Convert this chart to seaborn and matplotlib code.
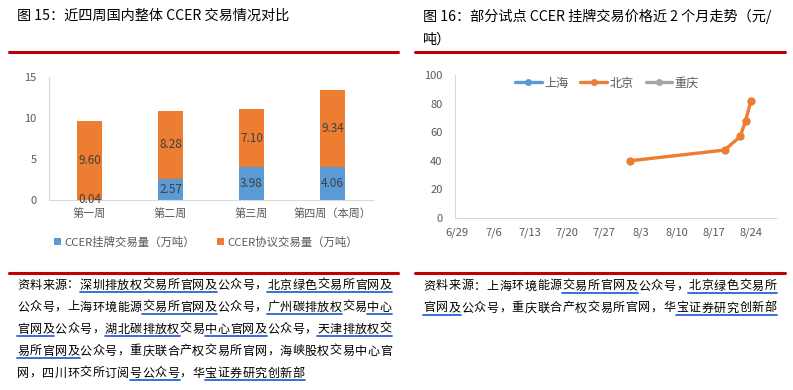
import matplotlib
matplotlib.use("Agg")
import matplotlib.pyplot as plt
import seaborn as sns
import pandas as pd
import numpy as np
from matplotlib.patches import Patch
from matplotlib.lines import Line2D

# ---------------- data ----------------
weeks = ["第一周", "第二周", "第三周", "第四周（本周）"]
listing_vol = [0.04, 2.57, 3.98, 4.06]      # CCER挂牌交易量（万吨）
protocol_vol = [9.60, 8.28, 7.10, 9.34]     # CCER协议交易量（万吨）
bar_series = ["CCER挂牌交易量（万吨）", "CCER协议交易量（万吨）"]

line_series = ["上海", "北京", "重庆"]
bj_dates = ["2023-08-01", "2023-08-19", "2023-08-22", "2023-08-23", "2023-08-24"]
bj_prices = [40.0, 47.5, 57.0, 68.0, 81.5]
date_ticks = ["2023-06-29", "2023-07-06", "2023-07-13", "2023-07-20", "2023-07-27",
              "2023-08-03", "2023-08-10", "2023-08-17", "2023-08-24"]
date_tick_labels = ["6/29", "7/6", "7/13", "7/20", "7/27", "8/3", "8/10", "8/17", "8/24"]

title_left = "图 15：近四周国内整体 CCER 交易情况对比"
title_right_1 = "图 16：部分试点 CCER 挂牌交易价格近 2 个月走势（元/"
title_right_2 = "吨）"
src_left = ["资料来源：深圳排放权交易所官网及公众号，北京绿色交易所官网及",
            "公众号，上海环境能源交易所官网及公众号，广州碳排放权交易中心",
            "官网及公众号，湖北碳排放权交易中心官网及公众号，天津排放权交",
            "易所官网及公众号，重庆联合产权交易所官网，海峡股权交易中心官",
            "网，四川环交所订阅号公众号，华宝证券研究创新部"]
src_right = ["资料来源：上海环境能源交易所官网及公众号，北京绿色交易所",
             "官网及公众号，重庆联合产权交易所官网，华宝证券研究创新部"]
# underlined character ranges (line index, first char, last char)
ul_left = [(0, 5, 15), (0, 20, 29), (1, 10, 15), (1, 20, 25), (1, 28, 29),
           (2, 0, 2), (2, 7, 12), (2, 15, 19), (2, 24, 29), (3, 0, 4),
           (4, 9, 12), (4, 15, 22)]
ul_right = [(0, 11, 16), (0, 21, 27), (1, 0, 2), (1, 20, 27)]

BLUE = "#5B9BD5"
ORANGE = "#ED7D31"
GRAY = "#A5A5A5"
TXT = "#595959"
RED = "#C00000"
ULBLUE = "#2A62D8"

sns.set_theme(style="white")
plt.rcParams['font.family'] = ['Noto Sans CJK SC', 'DejaVu Sans']

W, H = 793, 390
fig = plt.figure(figsize=(W / 100, H / 100), dpi=100)

def fx(px):
    return px / W

def fy(py):
    return 1 - py / H

# ---------------- titles & rules ----------------
fig.text(fx(17), fy(16), title_left, fontsize=10.2, va="center", ha="left", color="black")
fig.text(fx(423), fy(16), title_right_1, fontsize=10.2, va="center", ha="left", color="black")
fig.text(fx(423), fy(40), title_right_2, fontsize=10.2, va="center", ha="left", color="black")
for (x0, x1, y) in [(9, 398, 52), (415, 785, 52), (9, 398, 273), (415, 785, 273)]:
    fig.add_artist(Line2D([fx(x0), fx(x1)], [fy(y), fy(y)], color=RED, lw=2.2))

# ---------------- left: stacked bars ----------------
axL = fig.add_axes([fx(49), fy(200), fx(373) - fx(49), fy(77) - fy(200)])
dfb = pd.DataFrame({"week": weeks, "listing": listing_vol, "protocol": protocol_vol})
dfb["total"] = dfb["listing"] + dfb["protocol"]
sns.barplot(data=dfb, x="week", y="total", color=ORANGE, width=0.31, ax=axL,
            saturation=1, edgecolor="none")
sns.barplot(data=dfb, x="week", y="listing", color=BLUE, width=0.31, ax=axL,
            saturation=1, edgecolor="none")
for i, (l, p) in enumerate(zip(listing_vol, protocol_vol)):
    axL.text(i, l + p / 2, f"{p:.2f}", ha="center", va="center", fontsize=8.5, color="#404040")
    ly = l / 2 if l > 0.5 else 0.0
    axL.text(i, ly, f"{l:.2f}", ha="center", va="center", fontsize=8.5, color="#404040")
axL.set_xlim(-0.5, 3.5)
axL.set_ylim(0, 15)
axL.set_yticks([0, 5, 10, 15])
axL.set_xlabel("")
axL.set_ylabel("")
for s in ["top", "right"]:
    axL.spines[s].set_visible(False)
for s in ["left", "bottom"]:
    axL.spines[s].set_color("#D9D9D9")
    axL.spines[s].set_linewidth(0.8)
axL.tick_params(axis="y", length=0, pad=9, labelsize=8, labelcolor=TXT)
axL.tick_params(axis="x", length=0, pad=6, labelsize=8, labelcolor=TXT)
handles_b = [Patch(facecolor=BLUE, edgecolor="none"), Patch(facecolor=ORANGE, edgecolor="none")]
fig.legend(handles_b, bar_series, loc="center", bbox_to_anchor=(fx(206), fy(242)), ncol=2,
           frameon=False, fontsize=8.2, handlelength=0.6, handleheight=0.6, handletextpad=0.3,
           columnspacing=2.0, labelcolor=TXT)

# ---------------- right: line chart ----------------
axR = fig.add_axes([fx(455), fy(218), fx(776) - fx(455), fy(75) - fy(218)])
dfl = pd.DataFrame({"date": pd.to_datetime(bj_dates), "price": bj_prices, "city": "北京"})
sns.lineplot(data=dfl, x="date", y="price", color=ORANGE, lw=2.4, marker="o",
             markersize=6, markeredgewidth=0, ax=axR, legend=False)
t0 = pd.Timestamp(date_ticks[0])
axR.set_xlim(t0 - pd.Timedelta(days=0.3), t0 + pd.Timedelta(days=60.8))
axR.set_xticks(pd.to_datetime(date_ticks))
axR.set_xticklabels(date_tick_labels)
axR.set_ylim(0, 100)
axR.set_yticks([0, 20, 40, 60, 80, 100])
axR.set_xlabel("")
axR.set_ylabel("")
for s in ["top", "right"]:
    axR.spines[s].set_visible(False)
for s in ["left", "bottom"]:
    axR.spines[s].set_color("#D9D9D9")
    axR.spines[s].set_linewidth(0.8)
axR.tick_params(axis="y", length=0, pad=9, labelsize=8, labelcolor=TXT)
axR.tick_params(axis="x", length=0, pad=7, labelsize=8, labelcolor=TXT)
handles_l = [Line2D([], [], color=c, lw=2.4, marker="o", markersize=5, markeredgewidth=0)
             for c in [BLUE, ORANGE, GRAY]]
fig.legend(handles_l, line_series, loc="center", bbox_to_anchor=(fx(607), fy(83)), ncol=3,
           frameon=False, fontsize=8.7, handlelength=2.2, handletextpad=0.2,
           columnspacing=1.0, labelcolor=TXT)

# ---------------- sources (character grid, justified) ----------------
def draw_source(lines, x0, y0, dy, step, underlines):
    for li, line in enumerate(lines):
        y = y0 + li * dy
        for ci, ch in enumerate(line):
            fig.text(fx(x0 + ci * step + step / 2), fy(y), ch, fontsize=8.7,
                     va="center", ha="center", color="black")
    for li, a, b in underlines:
        y = y0 + li * dy + 6.5
        fig.add_artist(Line2D([fx(x0 + a * step), fx(x0 + (b + 1) * step)],
                              [fy(y), fy(y)], color=ULBLUE, lw=1.3))

draw_source(src_left, 17, 285, 22, 12.5, ul_left)
draw_source(src_right, 423, 286, 22, 12.64, ul_right)

fig.savefig("out.png", dpi=100)
